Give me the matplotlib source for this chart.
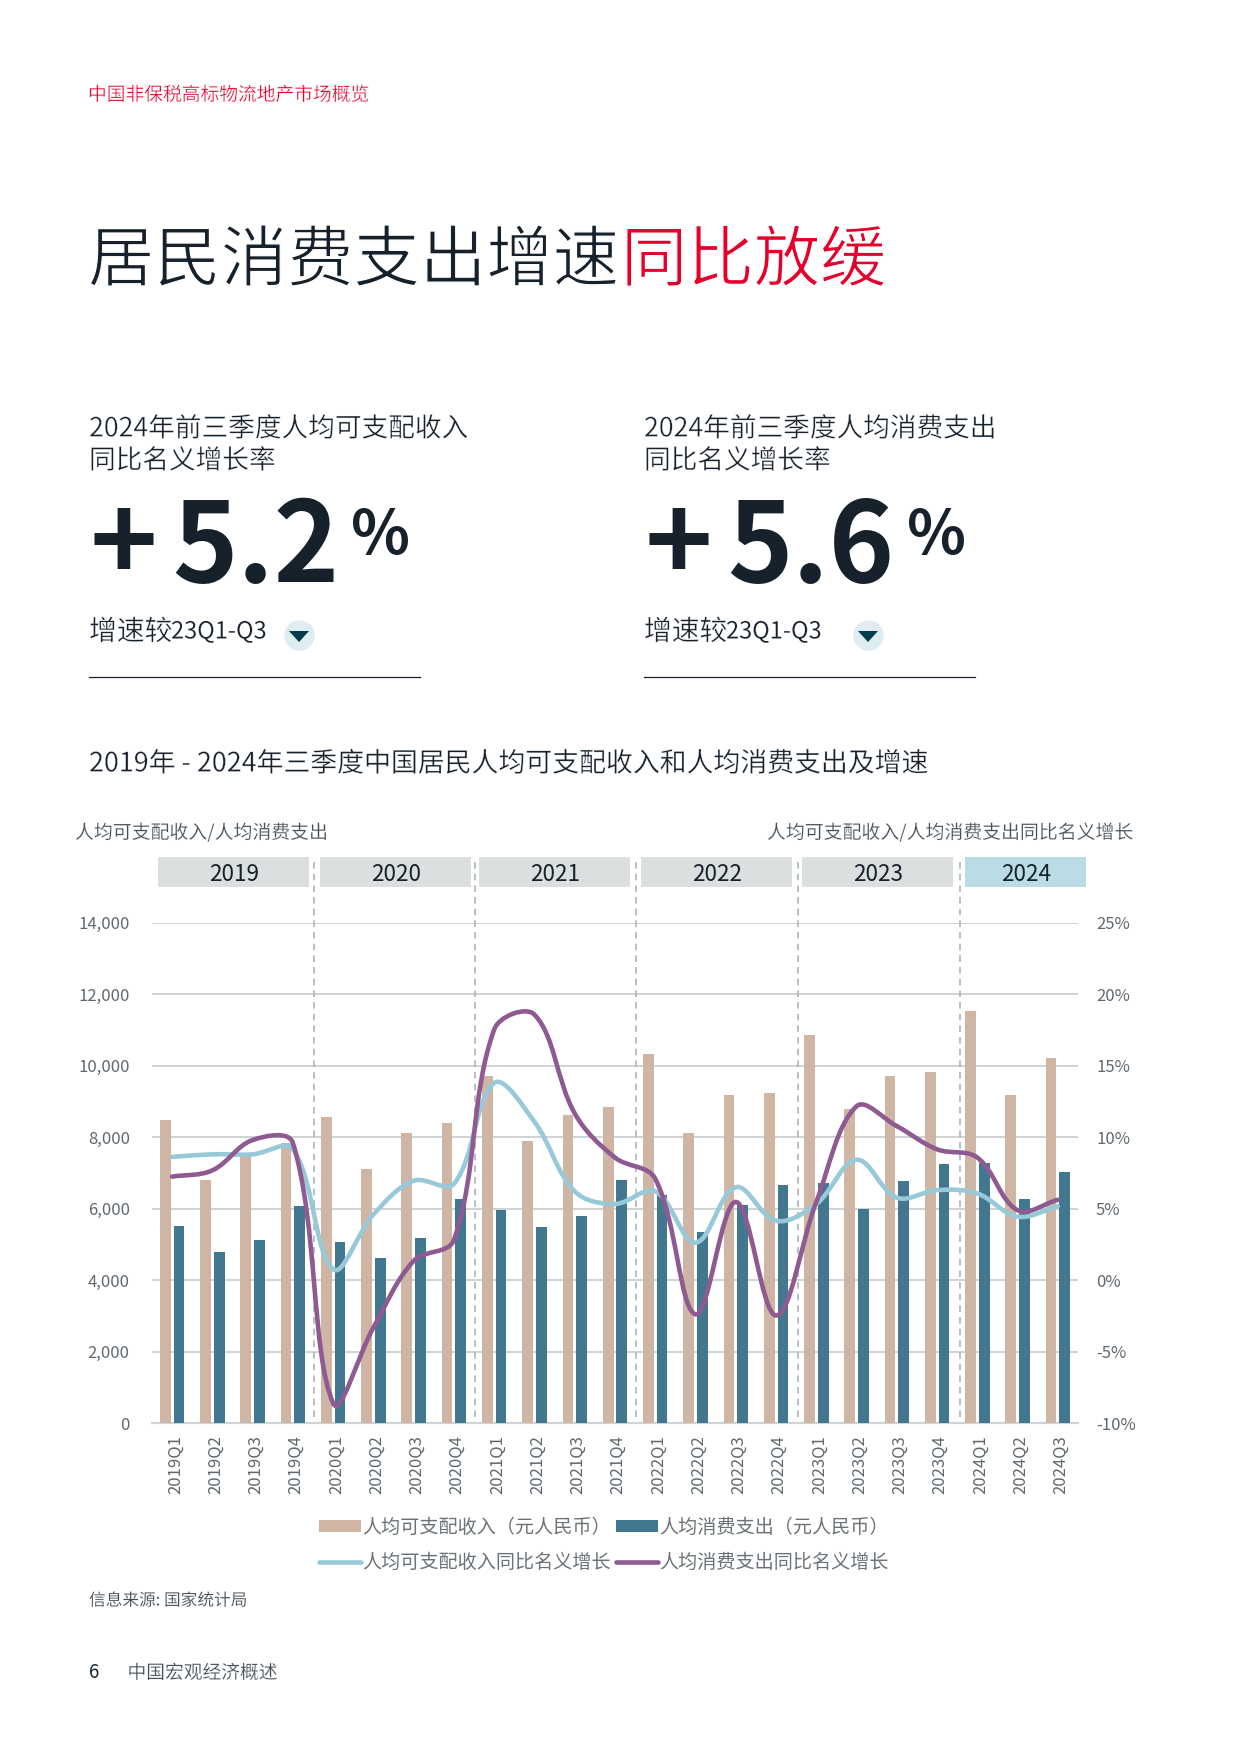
import matplotlib
matplotlib.use("Agg")
import matplotlib.pyplot as plt
import matplotlib.patheffects as pe
from matplotlib.patches import Rectangle, Polygon, PathPatch, Patch
from matplotlib.lines import Line2D
from matplotlib.path import Path
from matplotlib.transforms import ScaledTranslation
import numpy as np

plt.rcParams['font.family'] = ['Noto Sans CJK SC', 'DejaVu Sans']

quarters = ['2019Q1','2019Q2','2019Q3','2019Q4','2020Q1','2020Q2','2020Q3','2020Q4',
            '2021Q1','2021Q2','2021Q3','2021Q4','2022Q1','2022Q2','2022Q3','2022Q4',
            '2023Q1','2023Q2','2023Q3','2023Q4','2024Q1','2024Q2','2024Q3']
income = [8490,6795,7560,7850,8560,7105,8130,8405,9725,7910,8620,8860,
          10340,8115,9185,9230,10868,8795,9715,9820,11540,9185,10208]
spend = [5525,4780,5125,6080,5075,4627,5190,6276,5970,5487,5793,6806,
         6393,5357,6111,6653,6723,5993,6782,7253,7288,6288,7018]
income_g = [8.63,8.81,8.81,9.16,0.77,4.6,6.96,6.75,13.8,11.08,6.22,5.34,
            6.22,2.63,6.51,4.16,5.34,8.43,5.78,6.31,6.07,4.45,5.19]
spend_g = [7.25,7.69,9.81,9.6,-8.6,-3.3,1.36,2.83,17.55,18.58,11.67,8.58,
           7.1,-2.38,5.48,-2.46,5.48,12.17,10.78,9.16,8.58,4.9,5.63]
left_ticks = [0,2000,4000,6000,8000,10000,12000,14000]
right_ticks = [-10,-5,0,5,10,15,20,25]
years = ['2019','2020','2021','2022','2023','2024']

TAN='#CFB6A4'; TEAL='#41788F'; BLUE='#97C9D9'; PURPLE='#8F5A92'
DARK='#16212B'; RED='#E4002B'; GREY='#5F686E'; AX='#444F57'

W,H=1240,1754
fig=plt.figure(figsize=(12.4,17.54),dpi=100,facecolor='white')
def fx(x): return x/W
def fy(y): return 1-y/H
def thin(w): return [pe.Stroke(linewidth=w,foreground='white')]
def T(x,y,s,size,color=DARK,ha='left',va='center',slim=0,**k):
    t=fig.text(fx(x),fy(y),s,fontsize=size,color=color,ha=ha,va=va,**k)
    if slim: t.set_path_effects(thin(slim))
    return t
def Box(x0,y0,x1,y1,c):
    fig.add_artist(Rectangle((fx(x0),fy(y1)),(x1-x0)/W,(y1-y0)/H,transform=fig.transFigure,fc=c,ec='none'))

# page text
T(88,95,'中国非保税高标物流地产市场概览',13.5,RED,slim=0.25)
T(88,262,'居民消费支出增速',47.8,DARK,slim=0.9)
T(621,262,'同比放缓',47.8,RED,slim=0.9)

def stat(x0,head,val,cx,pctx,plusx):
    T(x0,429,head[0],19.2,DARK,slim=0.3)
    T(x0,461,head[1],19.2,DARK,slim=0.3)
    T(plusx,582,'+',83,DARK,va='baseline',weight='bold')
    T(x0+83,582,val,80,DARK,va='baseline',weight='bold')
    T(pctx,554,'%',44,DARK,va='baseline',weight='bold')
    T(x0,632,'增速较',20,DARK,slim=0.3)
    T(x0+82,632,'23Q1-Q3',17,DARK,slim=0.1)
    fig.add_artist(Line2D([fx(cx)],[fy(635)],marker='o',ms=22,mfc='#DFECF2',mec='none',transform=fig.transFigure,zorder=2))
    fig.add_artist(Polygon([(fx(cx-10),fy(631)),(fx(cx+10),fy(631)),(fx(cx),fy(642))],closed=True,transform=fig.transFigure,fc='#003C4E',ec='none',zorder=3))
    fig.add_artist(Line2D([fx(x0),fx(x0+331)],[fy(677)]*2,color=DARK,lw=0.9,transform=fig.transFigure))

stat(89,('2024年前三季度人均可支配收入','同比名义增长率'),'5.2',299,351,90)
stat(644,('2024年前三季度人均消费支出','同比名义增长率'),'5.6',868,907,644)

T(89,764,'2019年 - 2024年三季度中国居民人均可支配收入和人均消费支出及增速',19.35,DARK,slim=0.25)
T(75,833,'人均可支配收入/人均消费支出',13.6,AX,slim=0.15)
T(1133,833,'人均可支配收入/人均消费支出同比名义增长',13.6,AX,ha='right',slim=0.15)

# year boxes
spans=[(158,309),(320,471),(479,630),(641,792),(802,953),(965,1086)]
for (a,b),yr,c in zip(spans,years,['#DBDFE0']*5+['#B9DCE5']):
    Box(a,857,b,887,c)
    T((a+b)/2+1,874,yr,16.2,DARK,ha='center')

# chart
AL,AR,AT,AB=152,1078,922.8,1423.3
ax=fig.add_axes([fx(AL),fy(AB),(AR-AL)/W,(AB-AT)/H])
x=np.arange(len(quarters))
bw=0.266; off=0.17
b1=ax.bar(x-off,income,bw,color=TAN,zorder=3)
b2=ax.bar(x+off,spend,bw,color=TEAL,zorder=3)
ax.set_xlim(-0.5,22.5); ax.set_ylim(0,14000)
ax.set_yticks(left_ticks); ax.set_yticklabels([f'{v:,}' for v in left_ticks])
ax.set_xticks(x); ax.set_xticklabels(quarters,rotation=90)
ax.grid(axis='y',color='#CFD3D5',lw=1.4,zorder=0); ax.set_axisbelow(True)
for s in ax.spines.values(): s.set_visible(False)
ax.tick_params(axis='y',length=0,pad=16,labelsize=12,labelcolor=GREY)
ax.tick_params(axis='x',length=0,pad=8.5,labelsize=12,labelcolor=GREY)
shift=ScaledTranslation(3/100,0,fig.dpi_scale_trans)
for l in ax.get_xticklabels(): l.set_transform(l.get_transform()+shift)
ax.axhline(0,color='#CFD3D5',lw=1.6,zorder=2,clip_on=False)

for v in [3.53,7.53,11.52,15.55,19.58]:
    ax.plot([v,v],[0.012,1.132],transform=ax.get_xaxis_transform(),color='#AEB5B8',lw=1.2,
            ls=(0,(4,3)),clip_on=False,zorder=4)

ax2=ax.twinx()
ax2.set_xlim(-0.5,22.5); ax2.set_ylim(-10,25); ax2.set_yticks(right_ticks)
ax2.set_yticklabels([f'{v}%' for v in right_ticks])
for s in ax2.spines.values(): s.set_visible(False)
ax2.tick_params(axis='y',length=0,pad=13,labelsize=12,labelcolor=GREY)

def smooth_path(xs,ys,sx=40.2,sy=14.3,t=0.36):
    """Office-style smoothed line: handle length follows the chord length on screen."""
    p=np.column_stack([xs,ys]).astype(float)
    s=np.array([sx,sy])
    n=len(p)
    def handles(i):
        a=p[max(i-1,0)]; b=p[i]; c=p[min(i+1,n-1)]
        d1=np.linalg.norm((b-a)*s); d2=np.linalg.norm((c-b)*s)
        tot=max(d1+d2,1e-9)
        return b-(c-a)*t*d1/tot, b+(c-a)*t*d2/tot
    verts=[p[0]]; codes=[Path.MOVETO]
    for i in range(n-1):
        verts+=[handles(i)[1],handles(i+1)[0],p[i+1]]
        codes+=[Path.CURVE4]*3
    return Path(verts,codes)

ax2.add_patch(PathPatch(smooth_path(x,income_g),fc='none',ec=BLUE,lw=3.3,capstyle='round',joinstyle='round',zorder=5))
ax2.add_patch(PathPatch(smooth_path(x,spend_g),fc='none',ec=PURPLE,lw=3.3,capstyle='round',joinstyle='round',zorder=6))

handles=[Patch(fc=TAN,ec='none'),Line2D([],[],color=BLUE,lw=3.3,solid_capstyle='round'),
         Patch(fc=TEAL,ec='none'),Line2D([],[],color=PURPLE,lw=3.3,solid_capstyle='round')]
labels=['人均可支配收入（元人民币）','人均可支配收入同比名义增长','人均消费支出（元人民币）','人均消费支出同比名义增长']
leg=fig.legend(handles,labels,ncol=2,loc='center left',bbox_to_anchor=(fx(319),fy(1545)),frameon=False,
           labelcolor='#6B7378',handlelength=2.2,handleheight=0.6,handletextpad=0.05,
           columnspacing=0.3,labelspacing=0.76,borderpad=0,borderaxespad=0,prop={'size':13.75})

T(89,1601,'信息来源: 国家统计局',12,AX,slim=0.1)
T(89,1673,'6',13.5,DARK)
T(127.5,1673,'中国宏观经济概述',13.5,AX,slim=0.15)

fig.savefig('out.png',dpi=100,facecolor='white')
